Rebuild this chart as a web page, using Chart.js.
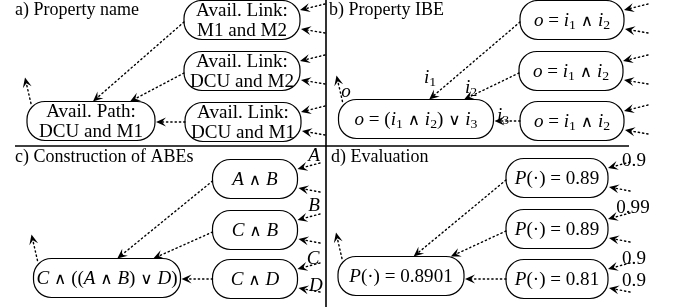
<!DOCTYPE html>
<html>
<head>
<meta charset="utf-8">
<script src="https://cdn.jsdelivr.net/npm/chart.js@4.4.0/dist/chart.umd.min.js"></script>
<style>
  html, body { margin: 0; padding: 0; background: #fff; }
</style>
</head>
<body>
<canvas id="diagram" width="673" height="307"></canvas>
<script>
// panel titles
const titles = ['a) Property name', 'b) Property IBE', 'c) Construction of ABEs', 'd) Evaluation'];

// node labels per panel: [output, input 1, input 2, input 3]
// '|' splits lines, a leading '$' means math (italic letters, _x = subscript)
const nodeLabels = [
  ['Avail. Path:|DCU and M1', 'Avail. Link:|M1 and M2', 'Avail. Link:|DCU and M2', 'Avail. Link:|DCU and M1'],
  ['$o = (i_1 ∧ i_2) ∨ i_3', '$o = i_1 ∧ i_2', '$o = i_1 ∧ i_2', '$o = i_1 ∧ i_2'],
  ['$C ∧ ((A ∧ B) ∨ D)', '$A ∧ B', '$C ∧ B', '$C ∧ D'],
  ['$P(·) = 0.8901', '$P(·) = 0.89', '$P(·) = 0.89', '$P(·) = 0.81']
];

// node centres in diagram units
const nodeX = [[91, 242, 242, 243], [416, 572, 571, 572], [107, 255, 255, 255], [401, 557, 557, 557]];
const nodeY = [[121, 20, 71, 122], [119, 20, 71, 121], [278, 179, 230, 279], [276, 178, 229, 279]];

// labels on the edges: panel b = i1, i2, i3, o ; c = A..D ; d = probabilities
const edgeLabels = [[], ['$i_1', '$i_2', '$i_3', '$o'], ['$A', '$B', '$C', '$D'], ['0.9', '0.99', '0.9', '0.9']];

// ---- layout / style (not data) ----
const nodeW = [[128, 116, 116, 116], [155, 104, 104, 104], [147, 85, 85, 85], [126, 102, 102, 102]];
const nodeH = 39;
const hitU = [[0.03, 0.61], [0.17, 0.62], [0.14, 0.63], [0.2, 0.79]]; // where inputs hit top of output
const stubX = [325, 648, 320, 630];
const titlePos = [[15, 15], [329, 15], [15, 162], [331, 162]];
const edgeLabelPos = [[], [[430, 77], [471, 87], [503, 115], [346, 91]],
  [[314, 155], [314, 205], [313, 258], [316, 285]],
  [[634, 160], [633, 207], [634, 258], [634, 280]]];
const FS = 18;
const STRETCH = 1.06; // computer-modern is a bit wider than Times
const SERIF = '"Liberation Serif", "DejaVu Serif", serif';
const OPS = '16px "DejaVu Sans", sans-serif';

function segments(str) {
  const out = [];
  if (str[0] !== '$') { out.push({ t: str, f: FS + 'px ' + SERIF, dy: 0 }); return out; }
  const s = str.slice(1);
  for (let i = 0; i < s.length; i++) {
    const c = s[i];
    if (c === '_') {
      out.push({ t: s[i + 1], f: Math.round(FS * 0.7) + 'px ' + SERIF, dy: 3 });
      i++;
    } else if (/[A-Za-z]/.test(c)) {
      out.push({ t: c, f: 'italic ' + FS + 'px ' + SERIF, dy: 0 });
    } else if (c === '∧' || c === '∨') {
      out.push({ t: c, f: OPS, dy: 0 });
    } else {
      out.push({ t: c, f: FS + 'px ' + SERIF, dy: 0 });
    }
  }
  return out;
}

function richText(ctx, str, x, y, align, stretch) {
  const segs = segments(str);
  let w = 0;
  segs.forEach(sg => { ctx.font = sg.f; sg.w = ctx.measureText(sg.t).width; w += sg.w; });
  ctx.save();
  ctx.translate(x, y);
  ctx.scale(stretch || STRETCH, 1);
  let cx = align === 'left' ? 0 : -w / 2;
  ctx.textBaseline = 'alphabetic';
  ctx.textAlign = 'left';
  segs.forEach(sg => { ctx.font = sg.f; ctx.fillText(sg.t, cx, sg.dy); cx += sg.w; });
  ctx.restore();
}

function roundBox(ctx, x, y, w, h, r) {
  ctx.beginPath();
  ctx.moveTo(x + r, y);
  ctx.lineTo(x + w - r, y);
  ctx.arcTo(x + w, y, x + w, y + r, r);
  ctx.lineTo(x + w, y + h - r);
  ctx.arcTo(x + w, y + h, x + w - r, y + h, r);
  ctx.lineTo(x + r, y + h);
  ctx.arcTo(x, y + h, x, y + h - r, r);
  ctx.lineTo(x, y + r);
  ctx.arcTo(x, y, x + r, y, r);
  ctx.closePath();
  ctx.stroke();
}

function arrow(ctx, x1, y1, x2, y2) {
  const dx = x2 - x1, dy = y2 - y1, len = Math.hypot(dx, dy);
  const ux = dx / len, uy = dy / len, nx = -uy, ny = ux;
  const L = 10, W = 4.5;
  ctx.save();
  ctx.setLineDash([1.3, 3]);
  ctx.lineCap = 'round';
  ctx.lineWidth = 1.4;
  ctx.beginPath();
  ctx.moveTo(x1, y1);
  ctx.lineTo(x2 - ux * L * 0.6, y2 - uy * L * 0.6);
  ctx.stroke();
  ctx.restore();
  ctx.beginPath();
  ctx.moveTo(x2, y2);
  ctx.lineTo(x2 - ux * L + nx * W, y2 - uy * L + ny * W);
  ctx.lineTo(x2 - ux * L * 0.6, y2 - uy * L * 0.6);
  ctx.lineTo(x2 - ux * L - nx * W, y2 - uy * L - ny * W);
  ctx.closePath();
  ctx.fill();
}

const diagramPlugin = {
  id: 'diagram',
  afterDatasetsDraw(chart) {
    const ctx = chart.ctx;
    const X = v => chart.scales.x.getPixelForValue(v);
    const Y = v => chart.scales.y.getPixelForValue(v);
    ctx.save();
    ctx.fillStyle = '#000';
    ctx.strokeStyle = '#000';

    // panel separators
    ctx.lineWidth = 1.6;
    ctx.beginPath();
    ctx.moveTo(X(326), Y(0)); ctx.lineTo(X(326), Y(307));
    ctx.moveTo(X(15), Y(146)); ctx.lineTo(X(629), Y(146));
    ctx.stroke();

    titles.forEach((t, p) => richText(ctx, t, X(titlePos[p][0]), Y(titlePos[p][1]), 'left', 1));

    for (let p = 0; p < 4; p++) {
      const box = k => {
        const w = nodeW[p][k], h = nodeH;
        return { l: X(nodeX[p][k] - w / 2), r: X(nodeX[p][k] + w / 2), t: Y(nodeY[p][k] - h / 2),
                 b: Y(nodeY[p][k] + h / 2), cx: X(nodeX[p][k]), cy: Y(nodeY[p][k]), w, h };
      };
      // nodes
      for (let k = 0; k < 4; k++) {
        const b = box(k);
        ctx.lineWidth = 1.2;
        roundBox(ctx, b.l, b.t, b.r - b.l, b.b - b.t, 18);
        const lines = nodeLabels[p][k].split('|');
        if (lines.length === 2) {
          richText(ctx, lines[0], b.cx, b.cy - 4, 'center');
          richText(ctx, lines[1], b.cx, b.cy + 16, 'center');
        } else {
          richText(ctx, lines[0], b.cx, b.cy + 6, 'center');
        }
      }
      const o = box(0);
      // inputs 1 and 2 to top of output, input 3 to its right side
      for (let k = 1; k <= 2; k++) {
        const b = box(k);
        arrow(ctx, b.l, b.cy + 2, o.cx + hitU[p][k - 1] * (o.r - o.l) / 2, o.t);
      }
      const b3 = box(3);
      arrow(ctx, b3.l, b3.cy, o.r + 1, b3.cy);
      // outgoing arrow from output node
      arrow(ctx, o.l + 4, o.t + 2, o.l - 2, o.t - 24);
      // incoming stubs on the inputs
      for (let k = 1; k <= 3; k++) {
        const b = box(k);
        arrow(ctx, X(stubX[p]), b.cy - 16, b.r, b.cy - 10);
        arrow(ctx, X(stubX[p]), b.cy + 13, b.r + 1, b.cy + 9);
      }
      // edge labels
      edgeLabels[p].forEach((t, i) => {
        richText(ctx, t, X(edgeLabelPos[p][i][0]), Y(edgeLabelPos[p][i][1]) + 6, 'center');
      });
    }
    ctx.restore();
  }
};

const points = [];
nodeX.forEach((row, p) => row.forEach((x, k) => points.push({ x, y: nodeY[p][k] })));

new Chart(document.getElementById('diagram'), {
  type: 'scatter',
  data: { datasets: [{ data: points, pointRadius: 0 }] },
  options: {
    responsive: false,
    animation: false,
    layout: { padding: 0 },
    plugins: { legend: { display: false }, tooltip: { enabled: false } },
    scales: {
      x: { type: 'linear', min: 0, max: 673, display: false },
      y: { type: 'linear', min: 0, max: 307, reverse: true, display: false }
    }
  },
  plugins: [diagramPlugin]
});
</script>
</body>
</html>
